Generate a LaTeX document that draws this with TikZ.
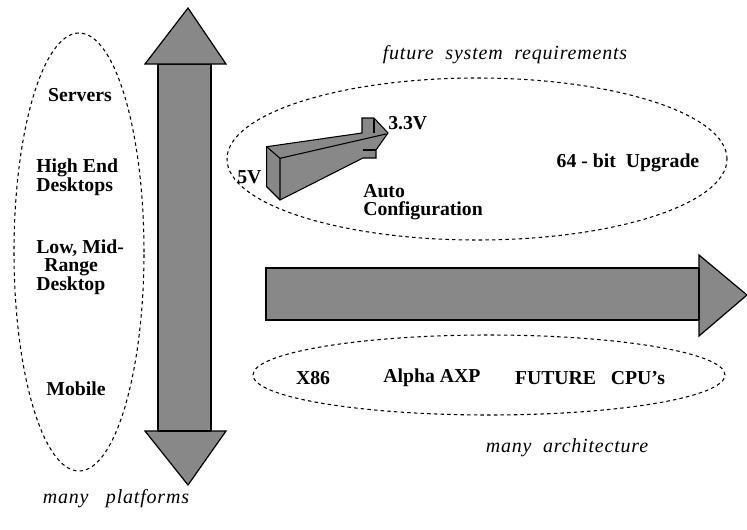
\documentclass[tikz,border=0pt]{standalone}
\usepackage{fontspec}
\setmainfont{Liberation Serif}
\definecolor{arrgray}{HTML}{888888}
\tikzset{
  lbl/.style={font=\fontsize{14.8}{14}\selectfont\bfseries, inner sep=0pt},
  note/.style={font=\fontsize{15}{15}\selectfont\itshape\addfontfeatures{LetterSpace=4}, inner sep=0pt},
  dashell/.style={draw, dash pattern=on 2.6pt off 2.4pt, line width=0.8pt},
  bigarrow/.style={draw, fill=arrgray, line width=0.9pt, line join=miter},
}
\begin{document}
\begin{tikzpicture}[x=0.75pt,y=-0.75pt]
\useasboundingbox (0,0) rectangle (747,529);
% ellipses
\coordinate (plat) at (79,252);
\coordinate (req) at (477,159);
\coordinate (arch) at (489,375);
\draw[dashell] (plat) ellipse [x radius=48.75pt, y radius=164.25pt];
\draw[dashell] (req) ellipse [x radius=187.5pt, y radius=60.75pt];
\draw[dashell] (arch) ellipse [x radius=177pt, y radius=30pt];
% vertical double arrow
\path[bigarrow] (158,64) rectangle (211,431);
\path[bigarrow] (145,64) -- (188,8) -- (226,64) -- cycle;
\path[bigarrow] (145,431) -- (226,431) -- (188,485) -- cycle;
\draw[line width=2pt] (158,431) -- (211,431);
% horizontal arrow
\path[bigarrow] (266,268) rectangle (699,320);
\path[bigarrow] (699,255) -- (747,295) -- (699,336) -- cycle;
\draw[line width=2pt] (699,268) -- (699,320);
% 3D arrow
\path[bigarrow, line width=0.8pt] (266.7,146.7) -- (362,133) -- (362,118) -- (374,118) -- (388,133)
  -- (376,150) -- (376,158) -- (363,158) -- (280,200) -- (266.7,186.7) -- cycle;
\draw[line width=0.8pt] (266.7,146.7) -- (280,158.3) -- (280,200);
\draw[line width=0.8pt] (280,158.3) -- (386,134);
\draw[line width=0.8pt] (374,118) -- (374,133);
\draw[line width=0.8pt] (363,150) -- (376,150);
% labels left
\node[lbl] (servers) at (80,95) {Servers};
\node[lbl, anchor=west, align=left] (high) at (36,177) {High End\\Desktops};
\node[lbl, anchor=west, align=left] (low) at (36,267) {Low, Mid-\\\hspace{6pt}Range\\Desktop};
\node[lbl] (mobile) at (76,389) {Mobile};
\node[note] (platforms) at (116,499) {many\ \ \ platforms};
% top
\node[note] (future) at (505,55) {future\ \ system\ \ requirements};
\node[lbl, anchor=west] (v33) at (388,123) {3.3V};
\node[lbl, anchor=west] (v5) at (237,177) {5V};
\node[lbl, anchor=west, align=left] (auto) at (363,202) {Auto\\Configuration};
\node[lbl] (bit) at (628,163) {64 - bit\ \ Upgrade};
% bottom
\node[lbl] (x86) at (313,378) {X86};
\node[lbl] (alpha) at (432,378) {Alpha AXP};
\node[lbl] (fut) at (590,378) {FUTURE\ \ \ CPU’s};
\node[note] (manyarch) at (567,448) {many\ \ architecture};
\end{tikzpicture}
\end{document}
